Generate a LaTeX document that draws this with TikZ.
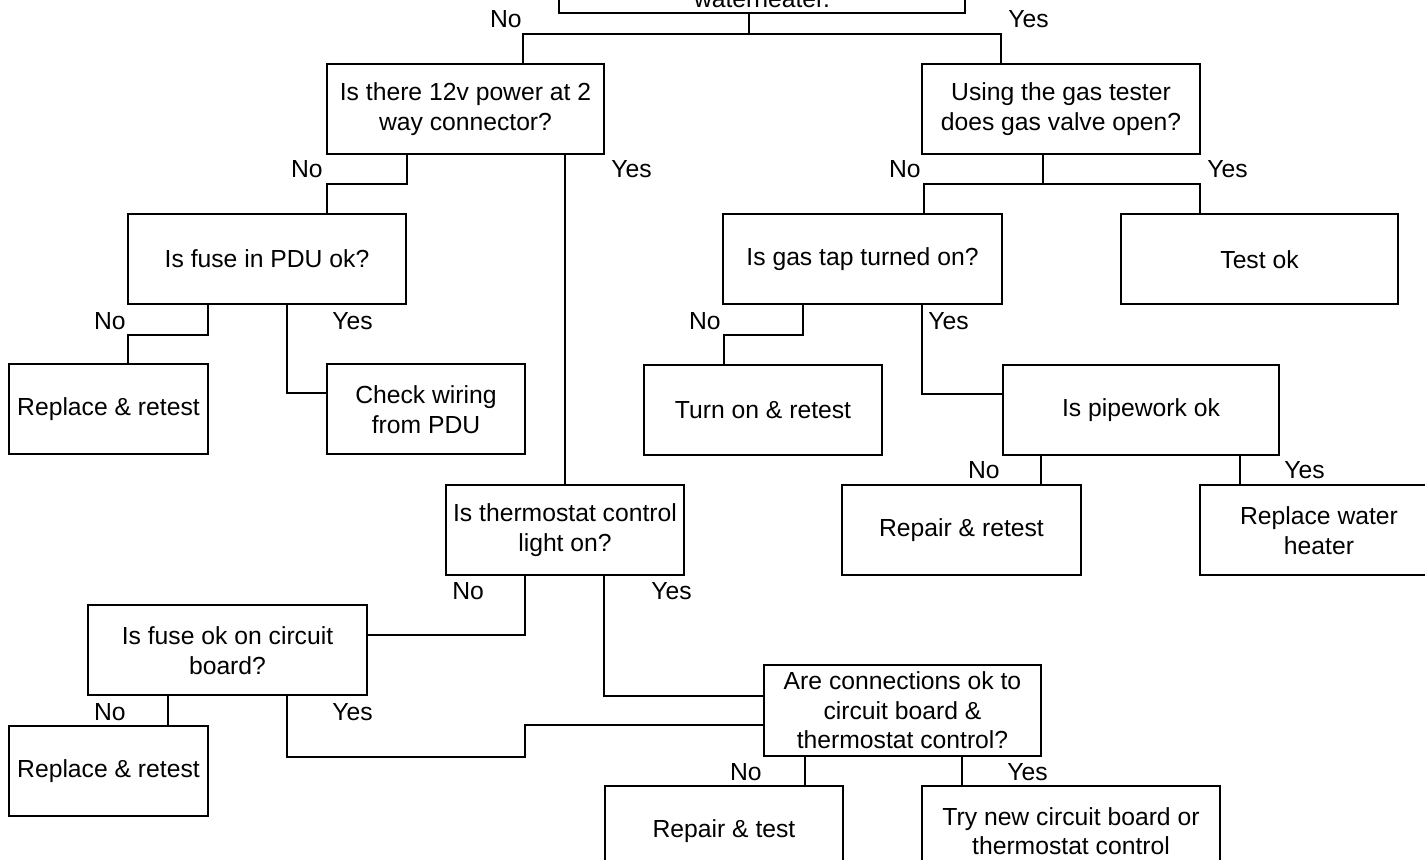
\documentclass[tikz,border=0pt]{standalone}
\usepackage{fontspec}
\setmainfont{Liberation Sans}
\usetikzlibrary{calc}
\begin{document}
\begin{tikzpicture}[x=0.5pt,y=-0.5pt,
  every node/.style={font=\fontsize{12.35pt}{14.75pt}\selectfont},
  box/.style 2 args={draw, line width=1pt, inner sep=0pt, align=center,
    minimum width=#1*0.5pt, minimum height=#2*0.5pt},
  lab/.style={inner sep=0pt},
  conn/.style={line width=1pt}]
\clip (0,0) rectangle (1425,860);
% boxes
\node[box={406}{90}] (top) at (762,-32) {};
\node[lab, anchor=base] (toptext) at ($(top.south)+(0,-6)$) {waterheater.};
\node[box={277}{90}] (q12v) at (465.5,109) {Is there 12v power at 2\\way connector?};
\node[box={278}{90}] (qgas) at (1061,109) {Using the gas tester\\does gas valve open?};
\node[box={278}{90}] (qpdu) at (267,259) {Is fuse in PDU ok?};
\node[box={279}{90}] (qtap) at (862.5,259) {Is gas tap turned on?};
\node[box={277}{90}] (testok) at (1259.5,259.5) {Test ok};
\node[box={199}{90}] (rep1) at (108.5,409) {Replace \& retest};
\node[box={198}{90}] (wiring) at (426,409.5) {Check wiring\\from PDU};
\node[box={238}{90}] (turnon) at (763,410) {Turn on \& retest};
\node[box={276}{90}] (pipe) at (1141,410) {Is pipework ok};
\node[box={238}{90}] (thermo) at (565,530) {Is thermostat control\\light on?};
\node[box={239}{90}] (repair2) at (961.5,530) {Repair \& retest};
\node[box={238}{90}] (replwh) at (1319,530.5) {Replace water\\heater};
\node[box={279}{90}] (fuseok) at (227.5,650.5) {Is fuse ok on circuit\\board?};
\node[box={277}{91}] (connq) at (902.5,710.5) {Are connections ok to\\circuit board \&\\thermostat control?};
\node[box={199}{90}] (rep3) at (108.5,771) {Replace \& retest};
\node[box={238}{90}] (repairtest) at (724,831) {Repair \& test};
\node[box={298}{90}] (trynew) at (1071,831) {Try new circuit board or\\thermostat control};
% connectors
\draw[conn] ($(top.south)+(-13,0)$) -- ++(0,20) -| ($(q12v.north)+(57.5,0)$);
\draw[conn] ($(top.south)+(-13,20)$) -| ($(qgas.north)+(-60,0)$);
\draw[conn] ($(q12v.south)+(-58.5,0)$) -- ++(0,29) -| ($(qpdu.north)+(60,0)$);
\draw[conn] ($(q12v.south)+(99.5,0)$) -- (thermo.north);
\draw[conn] ($(qgas.south)+(-18,0)$) -- ++(0,29) -| ($(qtap.north)+(61.5,0)$);
\draw[conn] ($(qgas.south)+(-18,29)$) -| ($(testok.north)+(-59.5,0)$);
\draw[conn] ($(qpdu.south)+(-59,0)$) -- ++(0,30) -| ($(rep1.north)+(19.5,0)$);
\draw[conn] ($(qpdu.south)+(20,0)$) |- ($(wiring.west)+(0,-16.5)$);
\draw[conn] ($(qtap.south)+(-59.5,0)$) -- ++(0,30) -| ($(turnon.north)+(-39,0)$);
\draw[conn] ($(qtap.south)+(59.5,0)$) |- ($(pipe.west)+(0,-16)$);
\draw[conn] ($(pipe.south)+(-100,0)$) -- ($(repair2.north)+(79.5,0)$);
\draw[conn] ($(pipe.south)+(99,0)$) -- ($(replwh.north)+(-79,0)$);
\draw[conn] ($(thermo.south)+(-40,0)$) |- ($(fuseok.east)+(0,-15.5)$);
\draw[conn] ($(thermo.south)+(39,0)$) |- ($(connq.west)+(0,-14.5)$);
\draw[conn] ($(fuseok.south)+(-59.5,0)$) -- ($(rep3.north)+(59.5,0)$);
\draw[conn] ($(fuseok.south)+(59.5,0)$) -- ++(0,60.5) -- ++(238,0) |- ($(connq.west)+(0,14.5)$);
\draw[conn] ($(connq.south)+(-97.5,0)$) -- ($(repairtest.north)+(81,0)$);
\draw[conn] ($(connq.south)+(59.5,0)$) -- ($(trynew.north)+(-109,0)$);
% labels
\node[lab, anchor=base east] (l1n) at (522,28) {No};
\node[lab, anchor=base west] (l1y) at (1008,28) {Yes};
\node[lab, anchor=base east] (l2n) at (323,178) {No};
\node[lab, anchor=base west] (l2y) at (611,178) {Yes};
\node[lab, anchor=base east] (l3n) at (921,178) {No};
\node[lab, anchor=base west] (l3y) at (1207,178) {Yes};
\node[lab, anchor=base east] (l4n) at (126,330) {No};
\node[lab, anchor=base west] (l4y) at (332,330) {Yes};
\node[lab, anchor=base east] (l5n) at (721,330) {No};
\node[lab, anchor=base west] (l5y) at (928,330) {Yes};
\node[lab, anchor=base east] (l6n) at (1000,479) {No};
\node[lab, anchor=base west] (l6y) at (1284,479) {Yes};
\node[lab, anchor=base west] (l7n) at (452,600) {No};
\node[lab, anchor=base west] (l7y) at (651,600) {Yes};
\node[lab, anchor=base east] (l8n) at (126,720) {No};
\node[lab, anchor=base west] (l8y) at (332,720) {Yes};
\node[lab, anchor=base east] (l9n) at (762,780) {No};
\node[lab, anchor=base west] (l9y) at (1007,780) {Yes};
\end{tikzpicture}
\end{document}
